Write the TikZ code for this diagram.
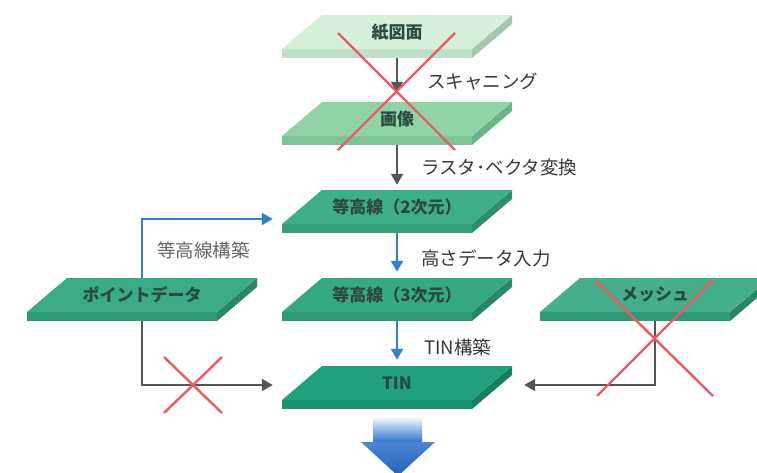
\documentclass[tikz,border=0pt]{standalone}
\usepackage{fontspec}
\newfontfamily\jp{Noto Sans CJK JP}
\usetikzlibrary{arrows.meta,calc}
\definecolor{aGray}{HTML}{555555}
\definecolor{aBlue}{HTML}{2F7FD0}
\definecolor{xRed}{HTML}{EE5A60}
\definecolor{slabTxt}{HTML}{2A4A42}
\definecolor{sideTxt}{HTML}{383838}
\definecolor{aT}{HTML}{D6EFDB}\definecolor{aF}{HTML}{BFE0C8}\definecolor{aS}{HTML}{A3C8AE}
\definecolor{bT}{HTML}{90D3A6}\definecolor{bF}{HTML}{7CC496}\definecolor{bS}{HTML}{6CB387}
\definecolor{cT}{HTML}{3DAF88}\definecolor{cF}{HTML}{35A07B}\definecolor{cS}{HTML}{2D8E6C}
\definecolor{dT}{HTML}{36A882}\definecolor{dF}{HTML}{2F9A76}\definecolor{dS}{HTML}{288768}
\definecolor{eT}{HTML}{20A07C}\definecolor{eF}{HTML}{1B916F}\definecolor{eS}{HTML}{167E61}
\definecolor{pT}{HTML}{3AAA87}
\definecolor{mT}{HTML}{45AE8D}
\definecolor{bigBlue}{HTML}{2A6FCC}
\newcommand{\myslab}[7]{%
  \fill[#5] (#2,#3+34) -- (#2+190,#3+34) -- (#2+190,#3+43) -- (#2,#3+43) -- cycle;
  \fill[#6] (#2+190,#3+34) -- (#2+230,#3) -- (#2+230,#3+9) -- (#2+190,#3+43) -- cycle;
  \fill[#4] (#2+40,#3) -- (#2+230,#3) -- (#2+190,#3+34) -- (#2,#3+34) -- cycle;
  \node[slabtext] (#1) at (#2+115,#3+17) {#7};
  \coordinate (#1-bot) at (#2+115,#3+43);
}
\tikzset{
  slabtext/.style={minimum width=230pt, minimum height=34pt, inner sep=0pt,
    text=slabTxt, font=\jp\bfseries\fontsize{17}{19}\selectfont},
  sidelabel/.style={anchor=west, inner sep=0pt, text=sideTxt,
    font=\jp\fontsize{18.5}{20}\selectfont},
  grayarrow/.style={draw=aGray, line width=2pt, -{Triangle[length=11pt,width=12pt]}},
  bluearrow/.style={draw=aBlue, line width=2pt, -{Triangle[length=11pt,width=12pt]}},
  redx/.style={draw=xRed, line width=2.4pt},
}
\begin{document}
\begin{tikzpicture}[x=1pt,y=-1pt]
\useasboundingbox (0,0) rectangle (757,472);
\clip (0,0) rectangle (757,472);
\fill[white] (0,0) rectangle (757,472);
% slabs
\myslab{s1}{282}{15}{aT}{aF}{aS}{紙図面}
\myslab{s2}{282}{102}{bT}{bF}{bS}{画像}
\myslab{s3}{282}{190}{cT}{cF}{cS}{等高線（2次元）}
\myslab{s4}{282}{278}{dT}{dF}{dS}{等高線（3次元）}
\myslab{s5}{282}{366}{eT}{eF}{eS}{TIN}
\myslab{p}{27}{278}{pT}{dF}{dS}{ポイントデータ}
\myslab{m}{540}{278}{mT}{dF}{dS}{メッシュ}
% main arrows
\draw[grayarrow, shorten >=9pt] (s1-bot) -- (s2.north);
\draw[grayarrow, shorten >=5pt] (s2-bot) -- (s3.north);
\draw[bluearrow, shorten >=6pt] (s3-bot) -- (s4.north);
\draw[bluearrow, shorten >=6pt] (s4-bot) -- (s5.north);
% side labels
\node[sidelabel] (l1) at (427,82) {スキャニング};
\node[sidelabel] (l2) at (421,167) {ラスタ･ベクタ変換};
\node[sidelabel] (l3) at (421,258) {高さデータ入力};
\node[sidelabel] (l4) at (424,347) {TIN構築};
\node[sidelabel, text=black!60] (l5) at (157,250) {等高線構築};
% side connectors
\draw[bluearrow, shorten >=9pt] (p.north) |- ($(s3.west)+(0,12)$);
\draw[grayarrow, shorten >=9pt] (p-bot) |- ($(s5.west)+(0,2)$);
\draw[grayarrow, shorten >=12pt] (m-bot) |- ($(s5.east)+(0,2)$);
% big arrow
\shade[top color=bigBlue!8, bottom color=bigBlue] (373,418) rectangle (422,443);
\shade[top color=bigBlue!85, bottom color=bigBlue!90!black] (361,442) -- (435,442) -- (398,476) -- cycle;
% red crosses
\draw[redx] (338,33) -- (455,150);
\draw[redx] (455,33) -- (338,150);
\draw[redx] (164,357) -- (222,413);
\draw[redx] (222,357) -- (164,413);
\draw[redx] (595,280) -- (713,396);
\draw[redx] (713,280) -- (597,396);
\end{tikzpicture}
\end{document}
